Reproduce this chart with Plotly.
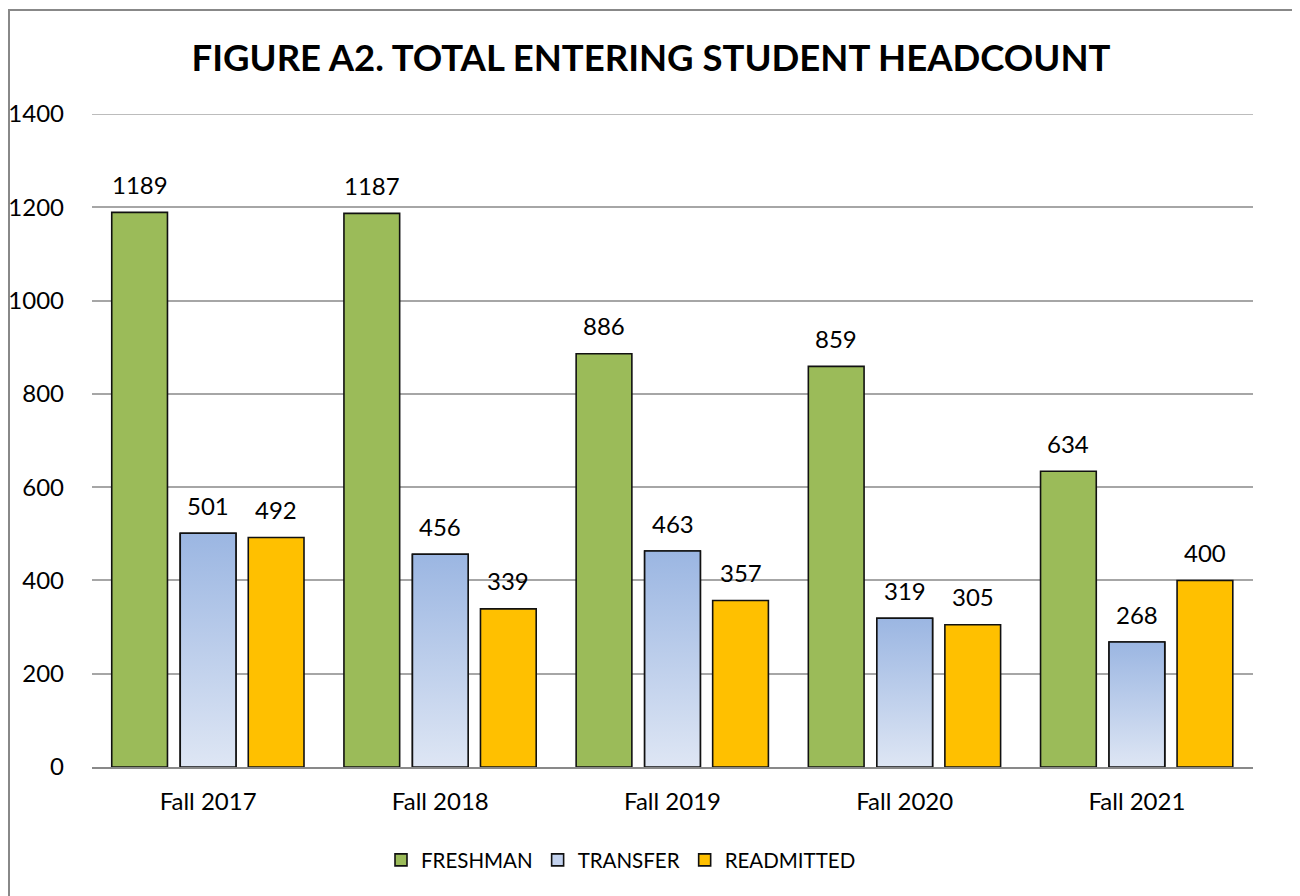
import plotly.graph_objects as go

# ---- data ----
categories = ["Fall 2017", "Fall 2018", "Fall 2019", "Fall 2020", "Fall 2021"]
freshman = [1189, 1187, 886, 859, 634]
transfer = [501, 456, 463, 319, 268]
readmitted = [492, 339, 357, 305, 400]
y_ticks = [0, 200, 400, 600, 800, 1000, 1200, 1400]
title_text = "FIGURE A2. TOTAL ENTERING STUDENT HEADCOUNT"

# ---- style ----
FONT = "Lato"
W, H = 1300, 896
L, R, T, B = 84, 55, 106, 137
pw, ph = W - L - R, H - T - B
BW = 0.24
OFF_F, OFF_T, OFF_R = -0.415, -0.12, 0.173
GREEN, YELLOW, BLUE_LEG = "#9BBB59", "#FFC000", "#C3D2EE"
GRID = "#A6A6A6"
OUTLINE = dict(color="#111111", width=1.6)


def px_x(fx):
    return (fx - L) / pw


def px_y(fy):
    return 1 - (fy - T) / ph


xpos = list(range(len(categories)))

fig = go.Figure()
fig.add_trace(go.Bar(x=xpos, y=freshman, width=BW, offset=OFF_F, name="FRESHMAN",
                     marker=dict(color=GREEN, line=OUTLINE)))
fig.add_trace(go.Bar(x=xpos, y=transfer, width=BW, offset=OFF_T, name="TRANSFER",
                     marker=dict(color=BLUE_LEG, line=OUTLINE)))
fig.add_trace(go.Bar(x=xpos, y=readmitted, width=BW, offset=OFF_R, name="READMITTED",
                     marker=dict(color=YELLOW, line=OUTLINE)))

# gradient fill for transfer bars (per bar, dark at top, light at bottom)
for xi, v in zip(xpos, transfer):
    x0, x1 = xi + OFF_T, xi + OFF_T + BW
    fig.add_trace(go.Scatter(
        x=[x0, x0, x1, x1, x0], y=[0, v, v, 0, 0], mode="lines", fill="toself",
        fillgradient=dict(type="vertical",
                          colorscale=[[0, "#DEE6F4"], [1, "#9BB6E2"]]),
        line=dict(color="#111111", width=1.6), showlegend=False, hoverinfo="skip"))

# data labels
for series, off in ((freshman, OFF_F), (transfer, OFF_T), (readmitted, OFF_R)):
    for xi, v in zip(xpos, series):
        fig.add_annotation(x=xi + off + BW / 2, y=v, text=str(v), showarrow=False,
                           yanchor="middle", yshift=28,
                           font=dict(family=FONT, size=24, color="#000000"))

# top gridline (plotly clips the gridline at the range end)
fig.add_shape(type="line", xref="paper", yref="y", x0=0, x1=1,
              y0=y_ticks[-1], y1=y_ticks[-1], line=dict(color=GRID, width=1.5),
              layer="below")

# outer chart border
fig.add_shape(type="rect", xref="paper", yref="paper",
              x0=px_x(1), x1=px_x(1289), y0=px_y(905), y1=px_y(2),
              line=dict(color="#888888", width=2), fillcolor="rgba(0,0,0,0)", layer="below")

fig.update_layout(
    width=W, height=H,
    margin=dict(l=L, r=R, t=T, b=B, autoexpand=False),
    paper_bgcolor="white", plot_bgcolor="white",
    barmode="overlay",
    font=dict(family=FONT, size=24, color="#000000"),
    title=dict(text=f"<b>{title_text}</b>", x=643 / W, xref="container", xanchor="center",
               y=1 - 50 / H, yref="container", yanchor="middle",
               font=dict(family=FONT, size=36.5, color="#000000")),
    xaxis=dict(range=[-0.5, len(categories) - 0.5], tickvals=xpos, ticktext=categories,
               showgrid=False, zeroline=False, showline=True, linecolor="#898989",
               linewidth=2, ticks="", ticklabelstandoff=12, automargin=False,
               tickfont=dict(family=FONT, size=24)),
    yaxis=dict(range=[0, 1400], tickvals=y_ticks, showgrid=True, gridcolor=GRID,
               gridwidth=1.5, zeroline=False, showline=False, ticks="",
               ticklabelstandoff=27, automargin=False, tickfont=dict(family=FONT, size=24)),
    legend=dict(orientation="h", x=613 / W, xanchor="center", xref="container",
                y=1 - 852 / H, yanchor="middle", yref="container",
                font=dict(family=FONT, size=20.5), traceorder="normal"),
    showlegend=True,
)

fig.write_html("out.html")
